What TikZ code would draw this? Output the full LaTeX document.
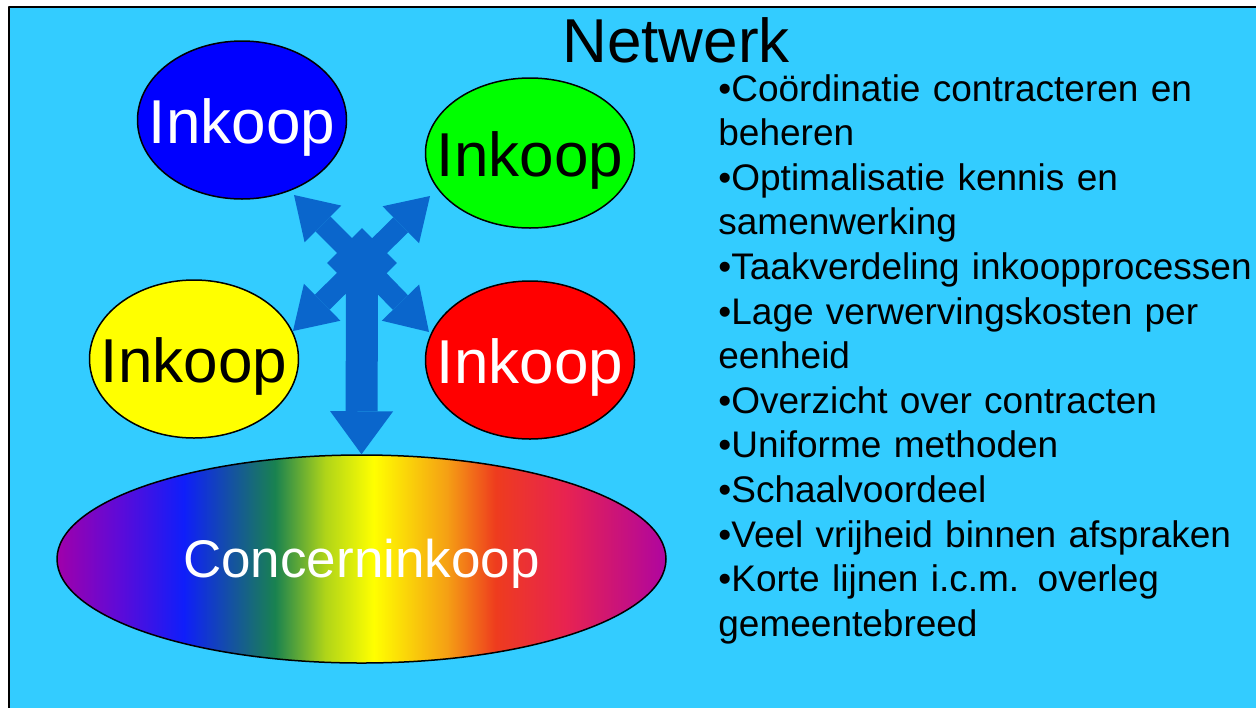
\documentclass[tikz,border=0pt]{standalone}
\usepackage{fontspec}
\setmainfont{Liberation Sans}
\usetikzlibrary{arrows.meta, shapes.geometric}
\definecolor{skyback}{RGB}{51, 204, 255}
\definecolor{arrowblue}{RGB}{10, 102, 204}
\definecolor{rbmagenta}{RGB}{160, 0, 170}
\definecolor{rbviolet}{RGB}{95, 10, 215}
\definecolor{rbblue}{RGB}{15, 30, 250}
\definecolor{rbgreen}{RGB}{25, 130, 80}
\definecolor{rblime}{RGB}{175, 212, 25}
\definecolor{rbyellow}{RGB}{255, 255, 0}
\definecolor{rborange}{RGB}{245, 160, 20}
\definecolor{rbred}{RGB}{238, 60, 30}
\definecolor{rbpink}{RGB}{232, 35, 80}
\definecolor{rbpurple}{RGB}{175, 5, 160}
\pgfdeclarehorizontalshading{rainbow}{100bp}{color(0bp)=(rbmagenta); color(25bp)=(rbmagenta); color(30bp)=(rbviolet); color(35.4bp)=(rbblue); color(42.9bp)=(rbgreen); color(47bp)=(rblime); color(51bp)=(rbyellow); color(57bp)=(rborange); color(61bp)=(rbred); color(66.7bp)=(rbpink); color(75bp)=(rbpurple); color(100bp)=(rbpurple)}

\begin{document}
\begin{tikzpicture}[x=0.5pt, y=-0.5pt, line join=round,
    pool/.style={ellipse, draw=black, line width=0.75pt, minimum width=104.5pt, minimum height=79pt, inner sep=0pt},
    tag/.style={font=\fontsize{31}{36}\selectfont, yshift=-3.5pt},
    spoke/.style={arrowblue, line width=10.5pt, -{Triangle[width=26pt, length=20.5pt, line width=0pt]}},
    trunk/.style={arrowblue, line width=16pt, -{Triangle[width=31.5pt, length=21.5pt, line width=0pt]}}]

    % page and panel
    \useasboundingbox (0,0) rectangle (1256,707);
    \clip (0,0) rectangle (1256,707);
    \fill[white] (0,0) rectangle (1256,707);
    \draw[fill=skyback, line width=1pt] (9,7) rectangle (1264,716);

    % title
    \node[font=\fontsize{31}{37}\selectfont, anchor=base, inner sep=0pt] (title) at (676,62) {Netwerk};

    % purchasing units
    \node[pool, fill=blue, label={[tag, white]center:Inkoop}] (inkA) at (242,120) {};
    \node[pool, fill=green, minimum height=75pt, label={[tag]center:Inkoop}] (inkB) at (530,153) {};
    \node[pool, fill=rbyellow, label={[tag]center:Inkoop}] (inkC) at (194,359) {};
    \node[pool, fill=red, label={[tag, white]center:Inkoop}] (inkD) at (530,360) {};

    % central purchasing
    \node[ellipse, draw=black, line width=0.75pt, shading=rainbow, minimum width=304.5pt, minimum height=104pt, inner sep=0pt,
        label={[font=\fontsize{26.5}{31}\selectfont, white, yshift=-2.25pt]center:Concerninkoop}] (conc) at (361.5,559) {};

    % arrow cross
    \coordinate (hub) at (362,263);
    \coordinate (tipA) at (294,195);
    \coordinate (tipB) at (430,196);
    \coordinate (tipC) at (293,331);
    \coordinate (tipD) at (429,332);
    \foreach \t in {tipA,tipB,tipC,tipD}
        \draw[spoke] (hub) -- (\t);
    \node[diamond, fill=arrowblue, minimum width=35pt, minimum height=35pt, inner sep=0pt] (knot) at (hub) {};
    \draw[trunk] (hub) -- (conc.north);

    % list of points
    \node[anchor=base west, inner sep=0pt, text width=300pt, align=left, font=\fontsize{18.5}{22.3}\selectfont] (list) at (718,101)
        {•Coördinatie contracteren en\\
         beheren\\
         •Optimalisatie kennis en\\
         samenwerking\\
         •Taakverdeling inkoopprocessen\\
         •Lage verwervingskosten per\\
         eenheid\\
         •Overzicht over contracten\\
         •Uniforme methoden\\
         •Schaalvoordeel\\
         •Veel vrijheid binnen afspraken\\
         •Korte lijnen i.c.m. overleg\\
         gemeentebreed};
\end{tikzpicture}
\end{document}
